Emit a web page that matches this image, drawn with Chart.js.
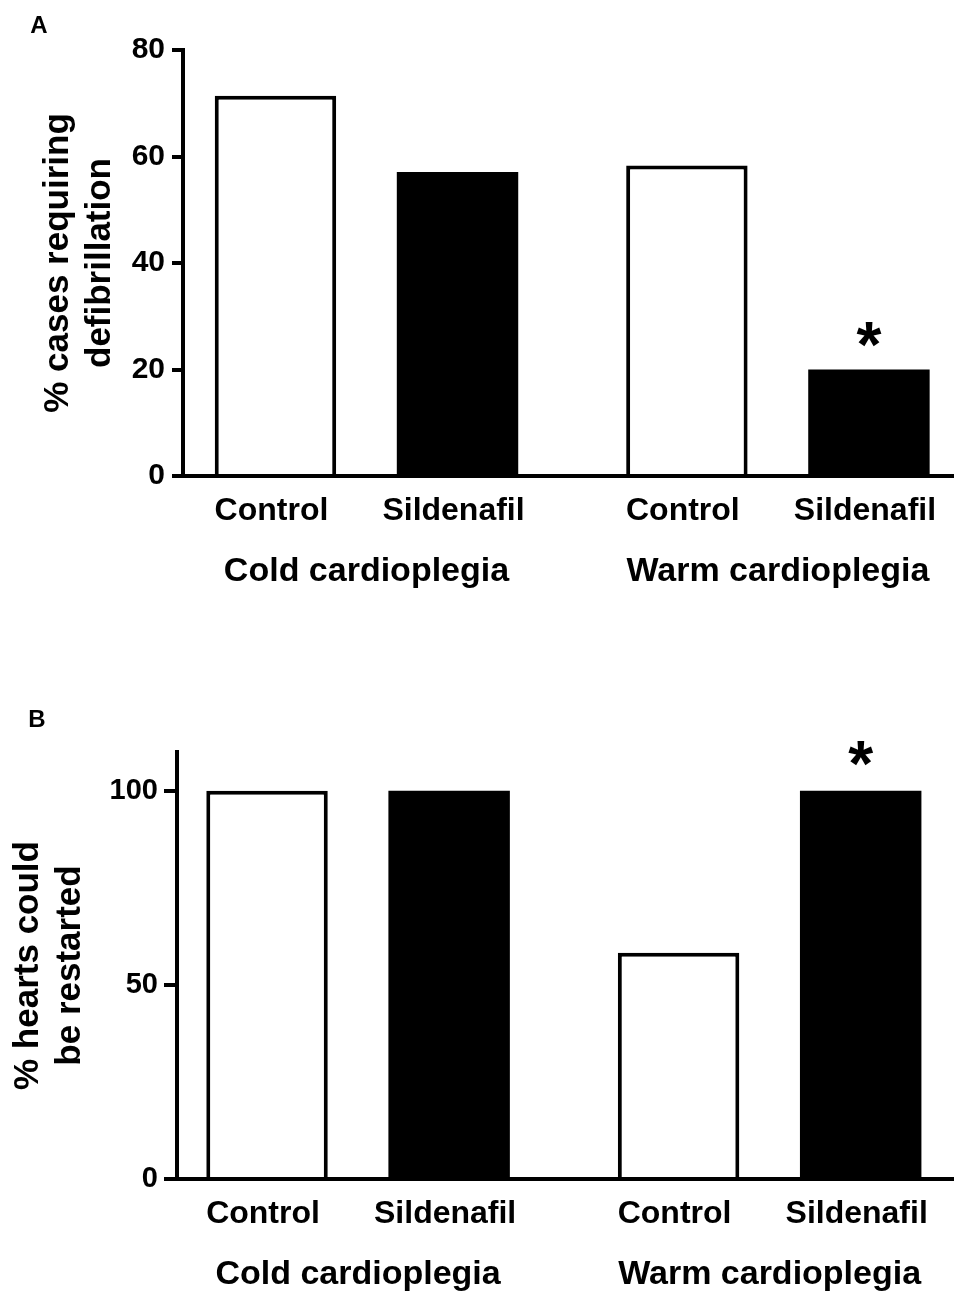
<!DOCTYPE html>
<html>
<head>
<meta charset="utf-8">
<script src="https://cdn.jsdelivr.net/npm/chart.js@4.4.1/dist/chart.umd.min.js"></script>
<style>
  html, body { margin: 0; padding: 0; background: #fff; overflow: hidden; }
  #wrap { position: relative; width: 954px; height: 1295px; }
  canvas { position: absolute; left: 0; }
  #chartA { top: 0; }
  #chartB { top: 620px; }
</style>
</head>
<body>
<div id="wrap">
  <canvas id="chartA" width="954" height="620"></canvas>
  <canvas id="chartB" width="954" height="675"></canvas>
</div>
<script>
const groups = ['Cold cardioplegia', 'Warm cardioplegia'];
const treatments = ['Control', 'Sildenafil'];

// panel A: % cases requiring defibrillation
const defibControl = [71.4, 58.3];
const defibSildenafil = [57.1, 20.0];
const defibStars = [false, true];      // asterisk over sildenafil bar
const defibTicks = [0, 20, 40, 60, 80];

// panel B: % hearts could be restarted
const restartControl = [100, 58.3];
const restartSildenafil = [100, 100];
const restartStars = [false, true];
const restartTicks = [0, 50, 100];

const FONT = '"Liberation Sans", Arial, Helvetica, sans-serif';

// sub labels under each bar, asterisks, panel letter
const extrasPlugin = {
  id: 'extras',
  afterDraw(chart, args, opts) {
    const ctx = chart.ctx;
    const bottom = chart.chartArea.bottom;
    ctx.save();
    ctx.fillStyle = '#000';
    ctx.textAlign = 'center';
    ctx.textBaseline = 'middle';
    ctx.font = 'bold 32px ' + FONT;
    chart.data.datasets.forEach((ds, di) => {
      chart.getDatasetMeta(di).data.forEach(bar => {
        ctx.fillText(ds.label, bar.x - 4, bottom + 35);
      });
    });

    // asterisk sized to ~25px wide glyph
    ctx.font = 'bold 100px ' + FONT;
    const m100 = ctx.measureText('*');
    const size = 100 * 25 / (m100.actualBoundingBoxLeft + m100.actualBoundingBoxRight);
    ctx.font = 'bold ' + size + 'px ' + FONT;
    ctx.textBaseline = 'alphabetic';
    const m = ctx.measureText('*');
    chart.data.datasets.forEach((ds, di) => {
      if (!ds.stars) return;
      chart.getDatasetMeta(di).data.forEach((bar, i) => {
        if (!ds.stars[i]) return;
        const cy = bar.y - opts.starGap;
        const cx = bar.x + (m.actualBoundingBoxLeft - m.actualBoundingBoxRight) / 2;
        ctx.fillText('*', cx, cy + (m.actualBoundingBoxAscent - m.actualBoundingBoxDescent) / 2);
      });
    });

    ctx.textBaseline = 'middle';
    ctx.font = 'bold 24px ' + FONT;
    ctx.fillText(opts.letter, opts.letterX, opts.letterY);
    ctx.restore();
  }
};

function makeChart(id, control, sildenafil, stars, yTicks, yMax, title, p) {
  return new Chart(document.getElementById(id), {
    type: 'bar',
    data: {
      datasets: [
        {
          label: treatments[0],
          data: control.map((v, i) => ({ x: i, y: v })),
          backgroundColor: '#fff',
          borderColor: '#000',
          borderWidth: 4
        },
        {
          label: treatments[1],
          data: sildenafil.map((v, i) => ({ x: i, y: v })),
          backgroundColor: '#000',
          borderWidth: 0,
          stars: stars
        }
      ]
    },
    options: {
      responsive: false,
      animation: false,
      categoryPercentage: 0.885,
      barPercentage: 0.667,
      layout: { padding: { top: p.top, left: 0, right: 0, bottom: 0 } },
      plugins: {
        legend: { display: false },
        tooltip: { enabled: false },
        extras: { letter: p.letter, letterX: p.letterX, letterY: p.letterY, starGap: p.starGap }
      },
      scales: {
        x: {
          type: 'linear',
          offset: false,
          min: p.xMin,
          max: p.xMax,
          afterBuildTicks: s => { s.ticks = groups.map((g, i) => ({ value: i })); },
          afterFit: s => {
            s.height = p.xHeight;
            s.paddingLeft = 0;
            s.paddingRight = 0;
          },
          grid: { display: false, drawTicks: false, offset: false },
          border: { display: true, color: '#000', width: 4, z: 1 },
          ticks: {
            callback: v => groups[v],
            color: '#000',
            font: { family: FONT, size: 34, weight: 'bold' },
            padding: 75,
            maxRotation: 0,
            autoSkip: false
          }
        },
        y: {
          min: 0,
          max: yMax,
          afterBuildTicks: s => { s.ticks = yTicks.map(v => ({ value: v })); },
          afterFit: s => { s.width = p.yWidth; },
          grid: { drawOnChartArea: false, color: '#000', lineWidth: 4, tickLength: p.tickLen },
          border: { color: '#000', width: 4, z: 1 },
          ticks: {
            color: '#000',
            font: { family: FONT, size: p.tickSize, weight: 'bold' },
            padding: p.tickPad
          },
          title: {
            display: true,
            text: title,
            color: '#000',
            font: { family: FONT, size: 35, weight: 'bold' },
            padding: { top: p.titlePad, bottom: 0 }
          }
        }
      }
    },
    plugins: [extrasPlugin]
  });
}

makeChart('chartA', defibControl, defibSildenafil, defibStars, defibTicks, 80,
  ['% cases requiring', 'defibrillation'],
  { top: 50, xHeight: 144, yWidth: 183, xMin: -0.446, xMax: 1.428,
    tickLen: 11, tickPad: 7, tickSize: 30, titlePad: 37,
    letter: 'A', letterX: 39, letterY: 26, starGap: 35 });

makeChart('chartB', restartControl, restartSildenafil, restartStars, restartTicks, 110,
  ['% hearts could', 'be restarted'],
  { top: 132, xHeight: 116, yWidth: 177, xMin: -0.44, xMax: 1.448,
    tickLen: 13, tickPad: 6, tickSize: 29, titlePad: 7,
    letter: 'B', letterX: 37, letterY: 100, starGap: 37 });
</script>
</body>
</html>
